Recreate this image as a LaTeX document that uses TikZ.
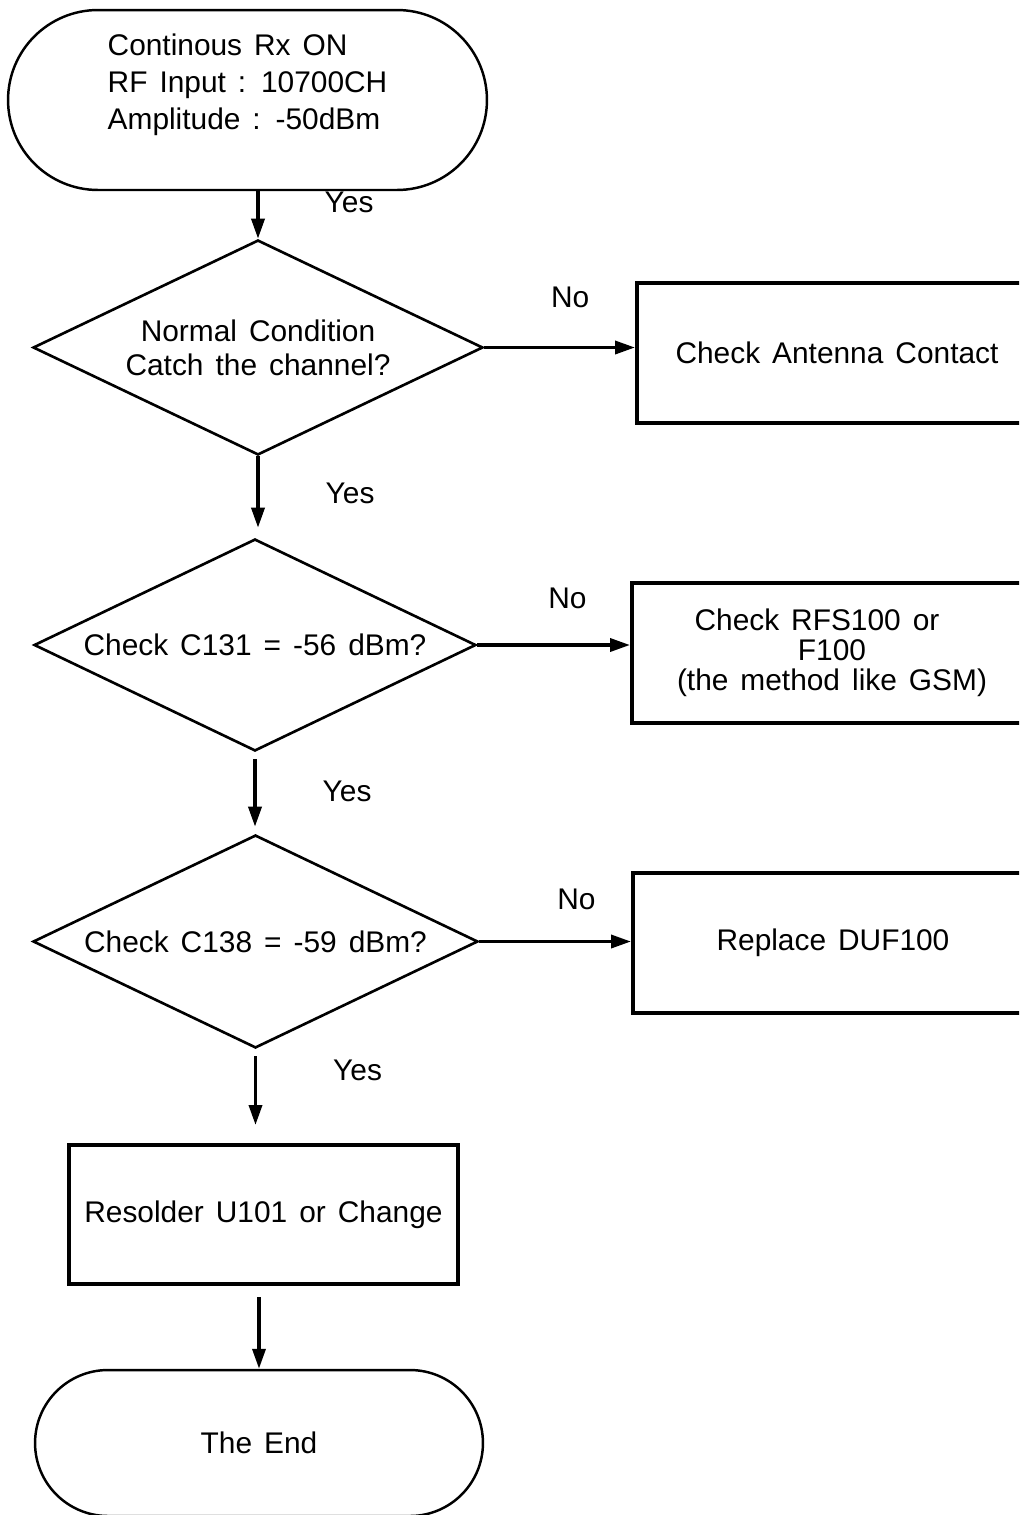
\documentclass[tikz,border=0pt]{standalone}
\usepackage{fontspec}
\setmainfont{Liberation Sans}[WordSpace=1.45]
\usetikzlibrary{shapes.geometric, shapes.misc, arrows.meta}

\begin{document}
\begin{tikzpicture}[
    x=0.02cm, y=-0.02cm,
    font=\fontsize{17}{19.2}\selectfont,
    terminal/.style = {rounded rectangle, draw, line width=1.4pt, align=left, inner sep=0pt},
    decision/.style = {diamond, draw, line width=1.5pt, aspect=2.1, inner sep=0pt, align=center},
    process/.style  = {rectangle, draw, line width=2.3pt, minimum height=2.8cm, align=center},
    arrow/.style    = {-{Triangle[length=0.4cm, width=0.26cm]}, line width=2pt},
    answer/.style   = {inner sep=0pt}
]
\useasboundingbox (0,0) rectangle (1019,1515);
\clip (0,0) rectangle (1019,1515);

% --- Start ---
\node[terminal, minimum width=9.58cm, minimum height=3.6cm, text depth=0.72cm, font=\fontsize{17}{21}\selectfont] (start) at (247.5,100) {Continous Rx ON\\RF Input : 10700CH\\Amplitude : -50dBm};

% --- Decisions ---
\node[decision, minimum width=9cm, minimum height=4.3cm] (cond) at (258,347.5) {Normal Condition\\Catch the channel?};
\node[decision, minimum width=8.84cm, minimum height=4.24cm] (c131) at (255,645) {Check C131 = -56 dBm?};
\node[decision, minimum width=8.9cm, minimum height=4.26cm] (c138) at (255.5,941.5) {Check C138 = -59 dBm?};

% --- Actions ---
\node[process, minimum width=8cm] (antenna) at (837,353) {Check Antenna Contact};
\node[process, minimum width=8cm, font=\fontsize{17}{17}\selectfont] (rfs) at (832,653) {Check RFS100 or\hspace*{0.6cm}\\F100\\(the method like GSM)};
\node[process, minimum width=8cm] (duf) at (833,943) {Replace DUF100};
\node[process, minimum width=7.78cm, minimum height=2.78cm] (resolder) at (263.5,1214.5) {Resolder U101 or Change};

% --- End ---
\node[terminal, minimum width=8.96cm, minimum height=2.92cm, align=center] (end) at (259,1443) {The End};

% --- Arrows ---
\draw[arrow] (start.south -| cond.north) -- node[answer, pos=0.24, right=1.3cm]{Yes} (cond.north);
\draw[arrow, shorten >=0.2cm] (cond.south) -- node[answer, pos=0.46, right=1.32cm]{Yes} (cond.south |- c131.north);
\draw[arrow, shorten <=0.14cm, shorten >=0.14cm] (c131.south) -- node[answer, pos=0.48, right=1.32cm]{Yes} (c131.south |- c138.north);
\draw[arrow, shorten <=0.14cm, shorten >=0.36cm] (c138.south) -- node[answer, pos=0.23, right=1.52cm]{Yes} (c138.south |- resolder.north);
\draw[arrow, shorten <=0.22cm] (resolder.south -| end.north) -- (end.north);

\draw[arrow] (cond.east) -- node[answer, pos=0.57, above=0.75cm]{No} (cond.east -| antenna.west);
\draw[arrow] (c131.east) -- node[answer, pos=0.59, above=0.68cm]{No} (c131.east -| rfs.west);
\draw[arrow] (c138.east) -- node[answer, pos=0.64, above=0.59cm]{No} (c138.east -| duf.west);

\end{tikzpicture}
\end{document}
